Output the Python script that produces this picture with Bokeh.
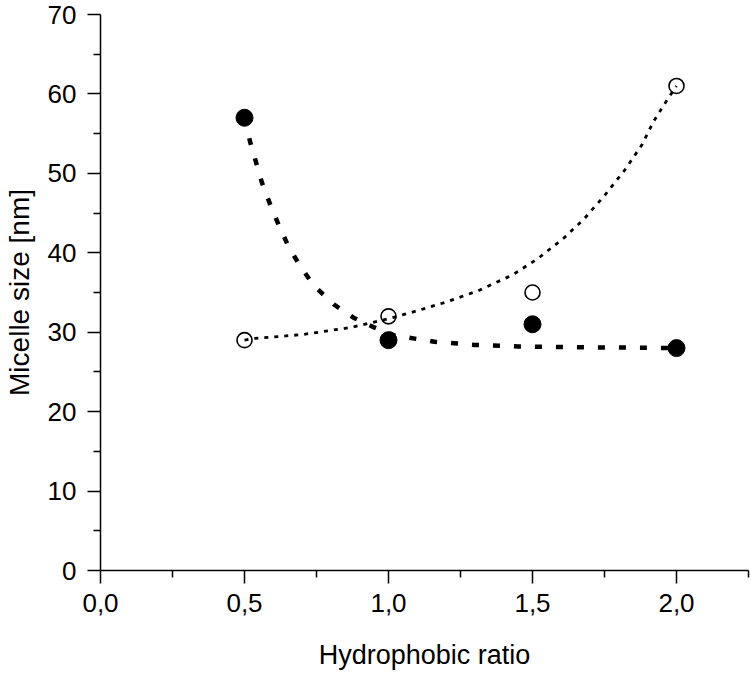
from bokeh.plotting import figure
from bokeh.models import Range1d, FixedTicker, CustomJSTickFormatter
from bokeh.embed import file_html
from bokeh.resources import INLINE

# Measured points
ratio = [0.5, 1.0, 1.5, 2.0]
size_filled = [57, 29, 31, 28]
size_open = [29, 32, 35, 61]

# Fitted curves
fit_dec_x = [0.50, 0.52, 0.54, 0.56, 0.59, 0.62, 0.65, 0.69, 0.74, 0.81, 0.88,
             0.95, 1.02, 1.16, 1.30, 1.45, 1.66, 1.88, 2.00]
fit_dec_y = [57.0, 53.9, 51.4, 48.9, 46.0, 43.4, 41.0, 38.5, 35.9, 33.5, 31.8,
             30.6, 29.6, 28.8, 28.4, 28.2, 28.1, 28.05, 28.0]
fit_inc_x = [0.50, 0.53, 0.70, 0.87, 1.00, 1.10, 1.20, 1.31, 1.43, 1.52, 1.61,
             1.68, 1.75, 1.82, 1.88, 1.92, 1.97, 2.00]
fit_inc_y = [29.0, 29.2, 29.7, 30.6, 31.7, 32.7, 33.8, 35.2, 37.2, 39.3, 41.9,
             44.3, 47.2, 50.4, 53.6, 56.5, 59.4, 61.0]

x_ticks = [0.0, 0.5, 1.0, 1.5, 2.0]
x_tick_labels = ["0,0", "0,5", "1,0", "1,5", "2,0"]
y_ticks = [0, 10, 20, 30, 40, 50, 60, 70]

FONT = "Liberation Sans"

p = figure(width=750, height=676, output_backend="svg", toolbar_location=None,
           x_range=Range1d(0, 2.25), y_range=Range1d(0, 70),
           min_border_left=100, min_border_top=14, min_border_right=2,
           min_border_bottom=106)
p.outline_line_color = None
p.xgrid.visible = False
p.ygrid.visible = False
p.background_fill_color = "white"
p.border_fill_color = "white"

p.line(fit_dec_x, fit_dec_y, line_color="black", line_width=4.5, line_dash="7 14")
p.line(fit_inc_x, fit_inc_y, line_color="black", line_width=2.8, line_dash="4 6")
p.scatter(ratio, size_filled, size=17, fill_color="black", line_color="black")
p.scatter(ratio, size_open, size=15, fill_color=None, line_color="black", line_width=1.6)

xa = p.xaxis[0]
xa.ticker = FixedTicker(ticks=x_ticks, minor_ticks=[0.25, 0.75, 1.25, 1.75, 2.25])
xa.formatter = CustomJSTickFormatter(args=dict(tvals=x_ticks, tlabels=x_tick_labels), code="""
const i = tvals.findIndex(t => Math.abs(t - tick) < 1e-9);
return i >= 0 ? tlabels[i] : '';
""")
xa.axis_label = "Hydrophobic ratio"

ya = p.yaxis[0]
ya.ticker = FixedTicker(ticks=y_ticks, minor_ticks=[5, 15, 25, 35, 45, 55, 65])
ya.axis_label = "Micelle size [nm]"

for ax in (xa, ya):
    ax.axis_line_width = 1.5
    ax.axis_line_color = "black"
    ax.major_tick_line_color = "black"
    ax.minor_tick_line_color = "black"
    ax.major_tick_line_width = 1.5
    ax.minor_tick_line_width = 1.5
    ax.major_tick_in = 0
    ax.major_tick_out = 13
    ax.minor_tick_in = 0
    ax.minor_tick_out = 7
    ax.major_label_text_font = FONT
    ax.major_label_text_font_size = "26px"
    ax.major_label_text_color = "black"
    ax.axis_label_text_font = FONT
    ax.axis_label_text_font_size = "27px"
    ax.axis_label_text_font_style = "normal"
    ax.axis_label_text_color = "black"

ya.axis_label_text_font_size = "28px"
xa.major_label_standoff = 10
xa.axis_label_standoff = 25
ya.major_label_standoff = 11
ya.axis_label_standoff = 10

open("out.html", "w").write(file_html(p, INLINE))
